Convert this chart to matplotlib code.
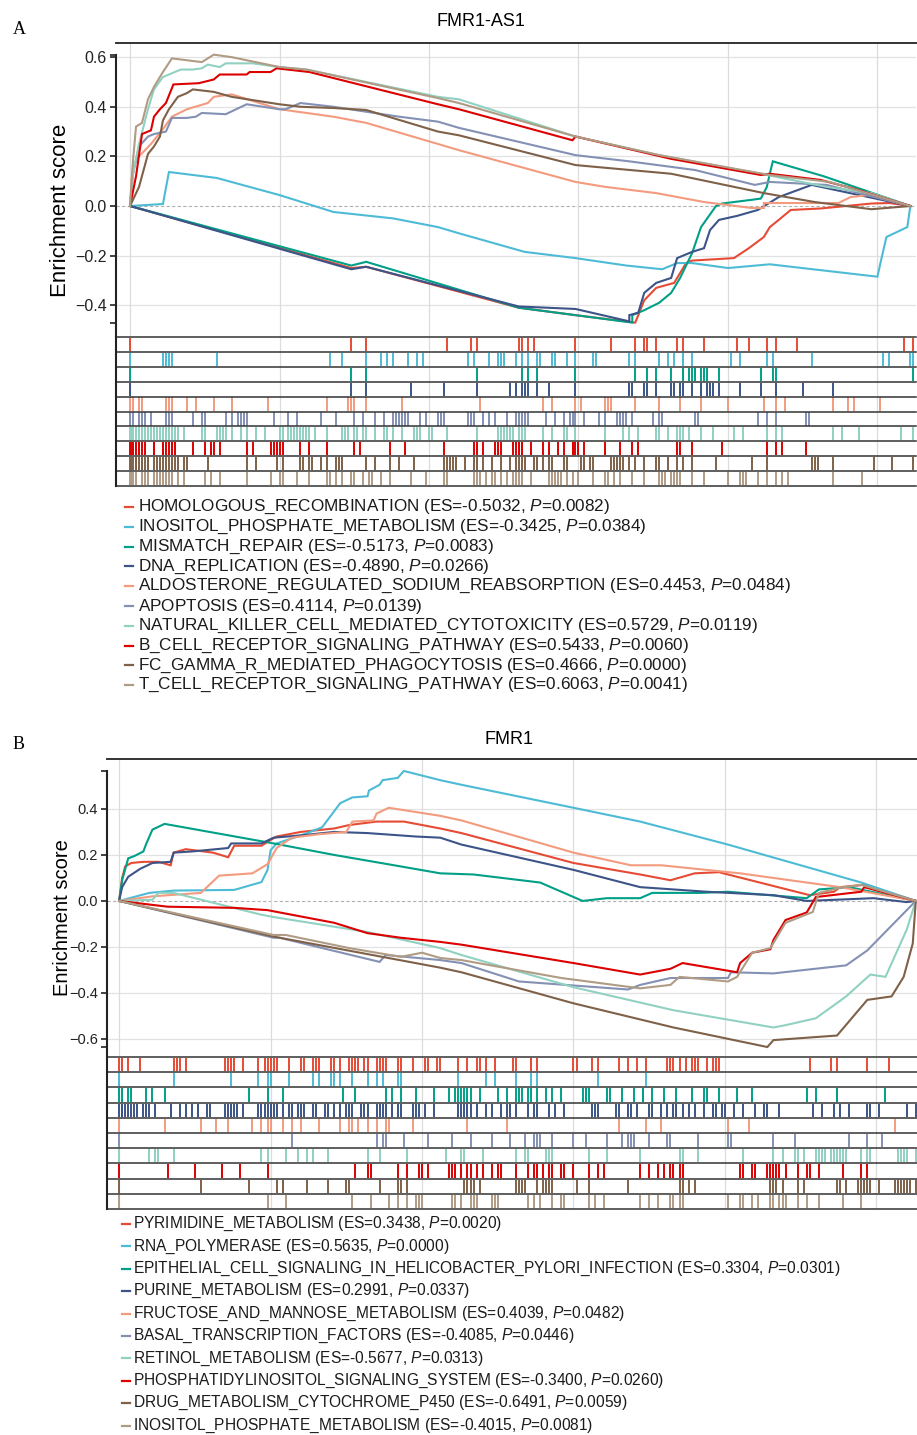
import numpy as np
import matplotlib.pyplot as plt
from matplotlib.lines import Line2D

plt.rcParams['font.family'] = ['Liberation Sans', 'DejaVu Sans']
plt.rcParams['mathtext.fontset'] = 'custom'
plt.rcParams['mathtext.rm'] = 'Liberation Sans'
plt.rcParams['mathtext.it'] = 'Liberation Sans:italic'

W, H = 917, 1435

# NPG palette, one colour per gene set (same order in both panels)
colors = ['#E64B35', '#4DBBD5', '#00A087', '#3C5488', '#F39B7F',
          '#8491B4', '#91D1C2', '#DC0000', '#7E6148', '#B09C85']

# ---------------- Panel A : FMR1-AS1 ----------------
a_names = ['HOMOLOGOUS_RECOMBINATION', 'INOSITOL_PHOSPHATE_METABOLISM',
           'MISMATCH_REPAIR', 'DNA_REPLICATION',
           'ALDOSTERONE_REGULATED_SODIUM_REABSORPTION', 'APOPTOSIS',
           'NATURAL_KILLER_CELL_MEDIATED_CYTOTOXICITY',
           'B_CELL_RECEPTOR_SIGNALING_PATHWAY',
           'FC_GAMMA_R_MEDIATED_PHAGOCYTOSIS',
           'T_CELL_RECEPTOR_SIGNALING_PATHWAY']
a_es = [-0.5032, -0.3425, -0.5173, -0.4890, 0.4453, 0.4114, 0.5729, 0.5433, 0.4666, 0.6063]
a_p = [0.0082, 0.0384, 0.0083, 0.0266, 0.0484, 0.0139, 0.0119, 0.0060, 0.0000, 0.0041]

# running enrichment score, (gene rank in thousands, ES)
a_curves = [
    [(0, 0), (7.4, -0.25), (7.9, -0.245), (13.0, -0.41), (14.9, -0.44), (16.9, -0.47),
     (17.2, -0.38), (17.6, -0.33), (18.2, -0.31), (18.6, -0.23), (18.8, -0.22), (20.2, -0.21),
     (20.7, -0.17), (21.2, -0.125), (21.4, -0.085), (21.7, -0.056), (22.1, -0.016),
     (23.1, -0.01), (24.8, 0.01), (25.4, 0.012), (26.1, 0)],
    [(0, 0), (1.1, 0.008), (1.3, 0.137), (2.9, 0.113), (5.0, 0.044), (6.8, -0.024),
     (8.8, -0.05), (10.3, -0.085), (11.0, -0.11), (13.2, -0.185), (14.9, -0.21),
     (16.6, -0.24), (17.8, -0.255), (18.3, -0.23), (18.8, -0.23), (20.0, -0.25),
     (21.4, -0.235), (25.0, -0.285), (25.1, -0.23), (25.3, -0.125), (26.0, -0.085), (26.1, 0)],
    [(0, 0), (7.4, -0.24), (7.9, -0.225), (13.0, -0.41), (16.8, -0.47), (16.8, -0.44),
     (17.2, -0.42), (17.7, -0.39), (18.1, -0.35), (18.4, -0.29), (18.8, -0.19), (19.1, -0.085),
     (19.6, 0), (19.8, 0.01), (20.8, 0.025), (21.1, 0.03), (21.3, 0.077), (21.4, 0.13),
     (21.5, 0.18), (23.2, 0.12), (26.1, 0)],
    [(0, 0), (7.4, -0.255), (7.9, -0.245), (13.0, -0.405), (14.9, -0.415), (16.7, -0.465),
     (16.7, -0.44), (17.0, -0.43), (17.2, -0.35), (17.6, -0.31), (18.1, -0.29), (18.3, -0.21),
     (18.8, -0.185), (19.2, -0.17), (19.4, -0.097), (19.7, -0.056), (20.3, -0.04),
     (21.0, -0.016), (21.7, 0.036), (22.8, 0.085), (26.1, 0)],
    [(0, 0), (0.05, 0.105), (0.1, 0.16), (0.3, 0.2), (0.7, 0.25), (1.1, 0.31), (1.4, 0.36),
     (1.9, 0.39), (2.6, 0.415), (2.8, 0.44), (3.4, 0.45), (5.0, 0.39), (6.8, 0.36),
     (7.9, 0.335), (10.3, 0.25), (11.0, 0.225), (14.9, 0.097), (15.9, 0.077), (17.6, 0.052),
     (19.2, 0.016), (20.8, -0.008), (21.2, -0.008), (21.2, 0.012), (23.7, 0.012),
     (24.1, 0.036), (24.7, 0.044), (26.1, 0)],
    [(0, 0), (0.1, 0.13), (0.3, 0.24), (0.6, 0.28), (0.8, 0.29), (1.2, 0.3), (1.4, 0.355),
     (1.9, 0.355), (2.2, 0.36), (2.4, 0.375), (3.2, 0.37), (3.9, 0.41), (5.0, 0.39),
     (5.2, 0.39), (5.7, 0.415), (6.8, 0.4), (9.0, 0.36), (10.3, 0.34), (11.0, 0.315),
     (14.9, 0.205), (16.7, 0.18), (18.9, 0.145), (20.9, 0.085), (21.4, 0.097), (23.3, 0.085),
     (26.1, 0)],
    [(0, 0), (0.1, 0.13), (0.3, 0.25), (0.6, 0.39), (0.8, 0.47), (1.1, 0.52), (1.7, 0.55),
     (2.1, 0.55), (2.4, 0.555), (2.6, 0.57), (3.0, 0.56), (3.2, 0.575), (4.1, 0.575),
     (5.0, 0.56), (5.9, 0.55), (10.3, 0.44), (11.0, 0.43), (14.9, 0.28), (17.7, 0.205),
     (21.3, 0.125), (23.3, 0.077), (24.8, 0.052), (26.1, 0)],
    [(0, 0), (0.2, 0.12), (0.4, 0.29), (0.7, 0.305), (0.8, 0.36), (1.0, 0.39), (1.2, 0.415),
     (1.4, 0.475), (1.45, 0.49), (2.3, 0.495), (2.8, 0.51), (3.0, 0.53), (3.9, 0.53),
     (4.0, 0.54), (4.7, 0.54), (4.9, 0.555), (6.0, 0.54), (10.3, 0.41), (11.0, 0.39),
     (14.8, 0.265), (14.9, 0.28), (18.1, 0.19), (21.1, 0.125), (21.4, 0.13), (23.1, 0.105),
     (24.2, 0.07), (26.1, 0)],
    [(0, 0), (0.3, 0.077), (0.6, 0.21), (0.8, 0.24), (1.0, 0.28), (1.1, 0.345), (1.3, 0.39),
     (1.6, 0.44), (1.9, 0.455), (2.1, 0.47), (2.8, 0.46), (3.4, 0.44), (5.0, 0.41),
     (5.7, 0.4), (6.8, 0.395), (7.9, 0.387), (10.3, 0.3), (11.0, 0.285), (14.9, 0.165),
     (18.1, 0.13), (21.2, 0.052), (22.9, 0.016), (24.8, -0.013), (26.1, 0)],
    [(0, 0), (0.1, 0.185), (0.2, 0.32), (0.4, 0.335), (0.6, 0.43), (0.8, 0.48), (1.1, 0.54),
     (1.4, 0.595), (2.4, 0.58), (2.8, 0.61), (3.4, 0.6), (5.0, 0.56), (5.9, 0.55),
     (10.3, 0.435), (11.0, 0.415), (14.9, 0.28), (17.7, 0.205), (21.4, 0.125), (23.4, 0.097),
     (26.1, 0)],
]

# hit positions of each gene set (gene rank in thousands)
a_hits = [
    [0, 7.4, 7.9, 10.6, 11.4, 11.6, 13.0, 13.1, 13.3, 13.5, 14.9, 16.1, 16.9, 17.2, 17.2, 17.3,
     17.6, 18.3, 18.5, 19.2, 20.3, 20.7, 21.3, 21.6, 22.3, 25.9, 26.2],
    [0, 1.1, 1.2, 1.3, 1.4, 2.9, 6.7, 7.1, 7.9, 8.4, 8.6, 8.8, 9.3, 9.6, 9.8, 11.3, 11.3, 11.5,
     12.0, 12.3, 12.4, 12.5, 12.9, 13.1, 13.3, 13.6, 13.7, 14.1, 14.2, 14.6, 14.9, 15.5, 15.6,
     16.7, 16.9, 17.7, 18.0, 18.2, 18.5, 18.5, 18.8, 20.1, 20.4, 21.3, 21.5, 22.8, 25.2, 25.4,
     26.1, 26.2],
    [0, 7.4, 7.9, 11.6, 13.1, 13.3, 13.6, 14.9, 16.9, 17.3, 17.6, 18.1, 18.5, 18.5, 18.7, 18.8,
     18.9, 18.9, 19.1, 19.2, 19.3, 19.7, 21.1, 21.5, 21.6, 26.2],
    [0, 7.4, 7.9, 9.4, 10.5, 11.6, 12.7, 12.9, 13.1, 13.2, 13.3, 13.6, 14.0, 14.9, 16.7, 16.8,
     17.2, 17.3, 17.6, 18.1, 18.2, 18.4, 18.5, 18.8, 19.1, 19.3, 19.4, 19.5, 19.7, 20.4, 21.1,
     21.6, 22.5, 23.5],
    [0, 0.1, 0.3, 0.4, 1.2, 1.3, 1.4, 1.9, 2.2, 2.8, 3.4, 4.6, 6.6, 7.3, 7.4, 7.5, 7.9, 9.1,
     11.7, 13.8, 14.1, 14.9, 14.9, 15.1, 15.9, 16.0, 16.1, 16.9, 17.7, 18.4, 19.1, 20.0, 21.2,
     21.6, 21.9, 23.5, 24.0, 24.2, 25.1],
    [0, 0.1, 0.3, 0.4, 0.5, 0.7, 1.2, 1.3, 1.4, 2.1, 2.4, 2.5, 3.2, 3.4, 3.6, 3.7, 3.8, 3.9,
     4.8, 5.3, 5.6, 6.4, 6.9, 7.5, 7.8, 8.2, 8.5, 8.8, 8.9, 9.0, 9.1, 9.2, 9.3, 9.7, 9.9,
     10.3, 10.4, 10.5, 11.3, 11.4, 11.5, 11.8, 12.0, 12.2, 12.6, 12.6, 12.9, 13.0, 13.1, 13.2,
     13.3, 13.9, 14.2, 14.5, 14.5, 14.7, 14.8, 14.9, 15.2, 15.7, 15.9, 16.3, 16.4, 16.5, 16.6,
     16.8, 17.5, 17.7, 17.8, 18.9, 19.0, 21.0, 21.3, 21.6, 22.6, 22.7],
    [0, 0.03, 0.1, 0.1, 0.1, 0.2, 0.2, 0.3, 0.3, 0.4, 0.5, 0.5, 0.6, 0.7, 0.7, 0.8, 0.9, 0.9,
     1.0, 1.1, 1.1, 1.2, 1.2, 1.3, 1.4, 1.4, 1.5, 1.6, 1.8, 2.4, 2.5, 2.9, 3.0, 3.1, 3.2, 3.4,
     3.7, 3.9, 4.2, 4.5, 5.0, 5.1, 5.3, 5.4, 5.5, 5.6, 5.7, 5.8, 5.9, 6.0, 6.2, 6.6, 7.1, 7.2,
     7.3, 7.5, 7.6, 7.8, 7.9, 8.2, 8.5, 8.6, 8.6, 8.8, 9.1, 9.5, 9.6, 9.7, 10.0, 10.1, 10.6,
     11.6, 12.3, 12.4, 12.5, 12.6, 12.7, 12.8, 13.0, 13.1, 13.2, 13.8, 14.1, 14.5, 14.6, 14.6,
     14.9, 14.9, 15.9, 16.5, 16.7, 17.0, 17.6, 17.7, 18.0, 18.3, 18.4, 18.5, 18.7, 19.1, 19.5,
     20.2, 20.5, 21.3, 21.6, 21.8, 23.5, 23.8, 24.4, 25.8, 26.2],
    [0, 0.03, 0.1, 0.1, 0.2, 0.3, 0.3, 0.4, 0.5, 0.8, 0.8, 1.1, 1.1, 1.2, 1.3, 1.4, 1.4, 1.5,
     2.1, 2.5, 2.7, 2.8, 3.0, 3.9, 4.1, 4.7, 4.8, 4.9, 5.0, 5.1, 5.7, 6.0, 6.6, 7.5, 7.7, 8.7,
     9.2, 10.5, 11.5, 11.6, 11.8, 12.2, 12.3, 12.4, 12.8, 12.9, 13.0, 13.0, 13.1, 13.1, 13.4,
     13.8, 14.0, 14.3, 14.5, 14.8, 14.8, 14.9, 15.0, 15.2, 15.9, 16.4, 16.8, 17.0, 18.3, 18.4,
     18.8, 19.8, 21.3, 21.6, 21.8, 22.6],
    [0, 0.03, 0.1, 0.2, 0.2, 0.3, 0.4, 0.4, 0.5, 0.6, 0.6, 0.8, 0.9, 1.0, 1.1, 1.2, 1.3, 1.4,
     1.5, 1.6, 1.8, 1.9, 2.6, 3.9, 4.2, 4.9, 5.1, 5.7, 5.8, 6.0, 6.1, 6.4, 6.6, 6.9, 7.0, 7.1,
     7.1, 7.9, 8.2, 8.7, 9.0, 9.5, 10.5, 10.6, 10.7, 10.8, 10.9, 11.2, 11.5, 11.6, 11.8, 12.1,
     12.4, 12.7, 12.9, 13.0, 13.1, 13.2, 13.5, 13.6, 13.8, 14.0, 14.1, 14.5, 14.6, 15.1, 15.2,
     15.2, 15.4, 15.5, 16.1, 16.2, 16.3, 16.4, 16.5, 16.7, 16.9, 17.2, 17.6, 17.7, 18.0, 18.3,
     18.5, 18.8, 19.6, 20.8, 21.3, 22.8, 22.9, 23.0, 23.5, 24.9, 25.5, 26.2],
    [0, 0.03, 0.1, 0.2, 0.2, 0.4, 0.5, 0.6, 0.8, 0.9, 1.0, 1.1, 1.2, 1.3, 1.4, 1.6, 1.8, 2.5,
     2.7, 3.0, 3.9, 4.7, 5.0, 5.1, 5.6, 6.0, 6.6, 6.7, 6.9, 7.1, 7.4, 7.5, 7.8, 8.0, 8.1, 8.4,
     8.7, 9.4, 9.9, 10.5, 10.6, 10.6, 11.5, 11.6, 11.7, 11.9, 12.1, 12.2, 12.4, 12.6, 12.8,
     12.9, 13.0, 13.1, 13.1, 13.4, 14.0, 14.1, 14.2, 14.3, 14.4, 14.6, 14.8, 15.0, 15.5, 15.9,
     16.0, 16.2, 16.4, 16.8, 17.2, 17.7, 17.8, 17.8, 17.9, 18.1, 18.2, 18.3, 18.4, 18.8, 19.2,
     20.0, 20.4, 20.5, 20.6, 21.0, 21.3, 21.6, 21.8, 22.0, 23.5, 24.5],
]

# ---------------- Panel B : FMR1 ----------------
b_names = ['PYRIMIDINE_METABOLISM', 'RNA_POLYMERASE',
           'EPITHELIAL_CELL_SIGNALING_IN_HELICOBACTER_PYLORI_INFECTION',
           'PURINE_METABOLISM', 'FRUCTOSE_AND_MANNOSE_METABOLISM',
           'BASAL_TRANSCRIPTION_FACTORS', 'RETINOL_METABOLISM',
           'PHOSPHATIDYLINOSITOL_SIGNALING_SYSTEM',
           'DRUG_METABOLISM_CYTOCHROME_P450', 'INOSITOL_PHOSPHATE_METABOLISM']
b_es = [0.3438, 0.5635, 0.3304, 0.2991, 0.4039, -0.4085, -0.5677, -0.3400, -0.6491, -0.4015]
b_p = [0.0020, 0.0000, 0.0301, 0.0337, 0.0482, 0.0446, 0.0313, 0.0260, 0.0059, 0.0081]

b_curves = [
    [(0, 0), (0.1, 0.1), (0.2, 0.15), (0.4, 0.165), (0.8, 0.17), (1.3, 0.17), (1.7, 0.155),
     (1.8, 0.21), (2.2, 0.225), (3.1, 0.21), (3.6, 0.19), (3.8, 0.24), (4.7, 0.24),
     (5.0, 0.265), (5.2, 0.28), (6.0, 0.3), (7.1, 0.315), (7.6, 0.33), (8.5, 0.345),
     (9.4, 0.345), (10.6, 0.315), (11.3, 0.295), (15.0, 0.165), (17.2, 0.115), (18.2, 0.09),
     (19.0, 0.12), (19.8, 0.125), (22.8, 0.025), (23.6, 0.04), (23.8, 0.06), (24.6, 0.07),
     (26.3, 0)],
    [(0, 0), (1.0, 0.035), (1.8, 0.045), (3.8, 0.048), (4.7, 0.082), (4.9, 0.135), (5.0, 0.22),
     (5.2, 0.25), (6.0, 0.285), (6.7, 0.32), (7.3, 0.425), (7.7, 0.45), (8.2, 0.455),
     (8.25, 0.48), (8.6, 0.505), (8.7, 0.525), (9.2, 0.535), (9.4, 0.565), (10.6, 0.525),
     (11.3, 0.505), (15.0, 0.405), (17.2, 0.345), (20.1, 0.245), (24.5, 0.08), (26.3, 0)],
    [(0, 0), (0.1, 0.09), (0.3, 0.185), (0.5, 0.195), (0.8, 0.215), (0.9, 0.25), (1.1, 0.31),
     (1.5, 0.335), (5.1, 0.25), (7.1, 0.2), (9.3, 0.15), (10.6, 0.12), (11.7, 0.115),
     (13.9, 0.08), (15.3, 0.0), (16.1, 0.012), (17.2, 0.012), (17.6, 0.035), (19.2, 0.035),
     (20.1, 0.04), (22.7, 0.012), (23.1, 0.05), (24.1, 0.06), (26.3, 0)],
    [(0, 0), (0.1, 0.06), (0.3, 0.105), (0.7, 0.14), (1.1, 0.165), (1.7, 0.17), (1.8, 0.21),
     (2.4, 0.215), (3.6, 0.23), (3.7, 0.25), (4.7, 0.25), (5.1, 0.275), (6.0, 0.285),
     (7.1, 0.3), (8.2, 0.295), (9.8, 0.28), (10.6, 0.275), (11.3, 0.245), (15.0, 0.135),
     (17.2, 0.06), (19.4, 0.04), (21.6, 0.025), (22.7, 0.0), (24.9, 0.012), (26.0, -0.005),
     (26.3, 0)],
    [(0, 0), (1.1, 0.02), (2.7, 0.035), (3.3, 0.11), (4.4, 0.12), (4.9, 0.16), (5.2, 0.23),
     (5.7, 0.275), (6.6, 0.29), (7.5, 0.3), (7.7, 0.345), (8.4, 0.35), (8.5, 0.38),
     (8.9, 0.405), (10.6, 0.37), (11.3, 0.35), (15.0, 0.21), (16.9, 0.155), (17.9, 0.155),
     (20.5, 0.12), (23.8, 0.06), (26.3, 0)],
    [(0, 0), (5.1, -0.16), (5.3, -0.16), (8.6, -0.265), (8.8, -0.235), (10.6, -0.257),
     (11.3, -0.27), (13.2, -0.35), (16.8, -0.385), (17.2, -0.365), (18.2, -0.335),
     (20.1, -0.335), (20.2, -0.31), (21.6, -0.315), (24.0, -0.28), (24.7, -0.215), (26.3, 0)],
    [(0, 0), (1.1, 0.005), (1.3, 0.035), (1.8, 0.035), (4.7, -0.06), (5.1, -0.07),
     (8.2, -0.135), (10.6, -0.205), (11.3, -0.235), (15.0, -0.375), (18.3, -0.475),
     (21.6, -0.55), (22.0, -0.54), (23.0, -0.51), (24.0, -0.415), (24.8, -0.32), (25.3, -0.33),
     (26.0, -0.125), (26.3, 0)],
    [(0, 0), (1.6, -0.025), (3.8, -0.03), (4.9, -0.04), (7.1, -0.095), (8.2, -0.14),
     (9.3, -0.16), (10.6, -0.178), (11.3, -0.19), (15.0, -0.27), (17.2, -0.32), (18.2, -0.295),
     (18.6, -0.27), (20.4, -0.31), (20.5, -0.27), (20.9, -0.225), (21.5, -0.21), (21.6, -0.17),
     (22.0, -0.083), (22.7, -0.05), (23.0, 0.017), (24.5, 0.04), (24.6, 0.06), (26.3, 0)],
    [(0, 0), (5.1, -0.155), (10.6, -0.29), (11.3, -0.31), (15.0, -0.445), (18.3, -0.55),
     (21.4, -0.635), (21.6, -0.605), (23.7, -0.585), (24.7, -0.43), (25.5, -0.415),
     (25.9, -0.33), (26.2, -0.185), (26.3, 0)],
    [(0, 0), (5.1, -0.148), (5.5, -0.148), (7.6, -0.205), (9.3, -0.243), (10.0, -0.225),
     (10.6, -0.248), (11.3, -0.257), (14.6, -0.335), (17.2, -0.38), (18.2, -0.365),
     (18.5, -0.33), (20.1, -0.35), (20.4, -0.33), (20.9, -0.225), (21.5, -0.205),
     (22.0, -0.095), (22.9, -0.048), (23.1, 0.035), (23.8, 0.057), (24.5, 0.07), (26.3, 0)],
]

b_hits = [
    [0, 0.1, 0.1, 0.3, 0.7, 1.8, 1.9, 2.0, 2.2, 3.5, 3.6, 3.7, 3.8, 3.8, 4.1, 4.6, 4.8, 4.8,
     4.9, 5.0, 5.1, 5.2, 5.6, 6.0, 6.1, 6.4, 6.5, 6.6, 6.6, 7.0, 7.1, 7.3, 7.6, 7.7, 7.8, 7.9,
     8.1, 8.2, 8.5, 8.6, 8.7, 8.8, 9.2, 9.3, 9.7, 10.1, 10.2, 10.5, 10.6, 11.2, 11.5, 11.8,
     11.9, 12.1, 12.4, 13.0, 13.1, 13.6, 13.6, 13.8, 15.0, 15.1, 15.6, 15.8, 16.5, 16.8, 17.1,
     17.4, 18.1, 18.2, 18.3, 18.5, 18.7, 18.9, 19.0, 19.1, 19.4, 19.6, 19.7, 19.8, 22.8, 23.5,
     23.7, 24.7, 25.4],
    [0, 1.8, 3.7, 4.6, 4.9, 5.0, 5.6, 6.4, 6.6, 7.0, 7.1, 7.3, 7.7, 8.2, 8.5, 8.7, 9.2, 9.3,
     11.2, 12.1, 12.4, 13.1, 13.6, 13.8, 15.8, 17.4],
    [0, 0.1, 0.1, 0.3, 0.4, 0.9, 1.1, 1.5, 4.3, 4.9, 5.4, 7.4, 7.8, 8.8, 9.0, 9.3, 9.8, 10.4,
     10.9, 11.1, 11.2, 11.3, 11.4, 11.5, 11.6, 11.9, 12.5, 12.8, 13.1, 13.2, 13.3, 13.5, 13.6,
     13.8, 14.1, 14.3, 14.6, 15.3, 15.4, 15.4, 15.5, 16.1, 16.2, 16.6, 17.0, 17.3, 17.3, 17.6,
     18.0, 18.4, 18.9, 19.3, 19.4, 19.8, 20.4, 20.9, 22.7, 23.0, 23.7, 23.7, 25.3],
    [0, 0.1, 0.1, 0.2, 0.3, 0.4, 0.5, 0.6, 0.8, 0.9, 1.0, 1.2, 1.7, 1.7, 2.0, 2.2, 2.4, 2.6,
     2.6, 2.9, 3.0, 3.5, 3.6, 3.7, 3.7, 3.8, 3.9, 4.1, 4.6, 4.7, 4.8, 4.9, 5.0, 5.0, 5.1, 5.2,
     5.4, 5.6, 5.7, 5.9, 6.0, 6.1, 6.4, 6.5, 6.8, 6.9, 7.1, 7.3, 7.5, 7.6, 7.7, 8.0, 8.1, 8.2,
     8.5, 8.6, 8.7, 8.8, 9.0, 9.2, 9.3, 9.7, 9.8, 9.9, 10.1, 10.4, 11.2, 11.3, 11.4, 11.5,
     11.6, 11.8, 12.1, 12.3, 12.6, 12.8, 12.9, 13.1, 13.5, 13.7, 13.8, 14.2, 14.4, 14.7, 15.6,
     15.7, 15.8, 16.4, 16.5, 16.8, 16.9, 17.1, 17.5, 17.6, 17.9, 18.1, 18.3, 18.4, 18.6, 18.8,
     19.0, 19.3, 19.6, 19.6, 19.7, 19.9, 20.0, 20.3, 20.6, 21.0, 21.3, 21.4, 21.8, 22.9, 23.2,
     23.6, 23.8, 24.1, 24.7, 24.8, 25.1, 26.0, 26.3],
    [0, 1.5, 2.7, 3.2, 3.6, 4.4, 4.7, 4.9, 5.0, 5.4, 5.7, 6.0, 6.6, 7.3, 7.6, 7.7, 7.9, 8.2,
     8.5, 8.8, 8.9, 9.7, 11.5, 12.8, 16.5, 17.4, 17.9, 20.1, 20.8, 25.6],
    [0, 5.7, 8.5, 8.7, 8.8, 9.4, 10.2, 11.0, 11.6, 12.3, 12.9, 13.4, 13.7, 13.8, 13.9, 14.3,
     15.0, 15.4, 16.1, 16.6, 16.8, 16.9, 17.0, 17.5, 18.1, 18.2, 19.1, 20.1, 20.2, 21.6, 22.3,
     24.1, 24.7, 25.2],
    [0, 1.0, 1.2, 1.3, 1.8, 4.7, 4.9, 5.5, 5.9, 6.2, 6.4, 6.9, 8.2, 8.6, 9.5, 10.8, 11.3, 11.4,
     12.0, 13.1, 13.4, 13.5, 14.1, 14.2, 14.3, 15.5, 15.5, 16.1, 17.2, 18.5, 18.6, 19.1, 20.6,
     21.6, 21.9, 22.3, 22.4, 22.6, 23.0, 23.1, 23.2, 23.3, 23.5, 23.6, 23.7, 23.8, 23.9, 24.0,
     24.5, 24.7, 24.8, 25.7, 25.8, 25.9, 26.0, 26.3],
    [0, 1.6, 2.5, 3.4, 4.0, 4.9, 7.8, 8.2, 8.3, 9.2, 9.5, 9.9, 10.0, 10.0, 10.2, 10.9, 11.0,
     11.1, 11.3, 11.5, 11.6, 11.8, 12.0, 12.3, 12.5, 12.6, 13.1, 13.5, 13.7, 13.8, 14.0, 14.2,
     14.3, 14.6, 14.7, 15.0, 15.5, 15.8, 16.0, 17.2, 17.5, 17.8, 18.0, 18.2, 18.3, 18.5, 18.6,
     20.5, 20.6, 20.9, 21.0, 21.4, 21.5, 21.6, 21.7, 21.8, 22.0, 22.4, 22.7, 22.8, 23.1, 23.9,
     24.5, 24.7],
    [0, 2.7, 4.3, 5.2, 5.4, 5.4, 6.2, 6.9, 7.5, 7.6, 8.6, 9.2, 9.3, 9.5, 11.4, 11.5, 11.6,
     11.7, 11.9, 13.1, 13.2, 13.3, 13.4, 13.8, 14.0, 14.1, 14.2, 14.3, 15.1, 15.5, 16.8, 18.5,
     18.6, 18.8, 19.0, 21.5, 21.6, 21.7, 21.9, 22.4, 22.6, 23.7, 23.8, 24.0, 24.4, 24.5, 24.6,
     24.7, 24.8, 25.1, 25.6, 25.7, 25.8, 25.9, 26.0, 26.1, 26.3],
    [0, 4.9, 5.5, 7.7, 8.3, 8.9, 9.2, 9.5, 9.8, 9.9, 10.0, 11.0, 11.1, 11.3, 11.6, 11.7, 11.8,
     12.3, 12.4, 12.5, 13.5, 13.7, 13.9, 14.3, 14.6, 14.7, 15.5, 15.7, 16.0, 17.2, 17.5, 17.8,
     18.2, 18.3, 18.5, 18.6, 20.1, 20.5, 20.6, 20.9, 21.1, 21.5, 21.6, 21.8, 21.9, 22.0, 22.4,
     22.7, 23.1, 23.9, 24.5],
]

a_yticks = [-0.4, -0.2, 0.0, 0.2, 0.4, 0.6]
b_yticks = [-0.6, -0.4, -0.2, 0.0, 0.2, 0.4]
x_grid = [0, 5, 10, 15, 20, 25]


def px_rect(l, t, r, b):
    return [l / W, 1 - b / H, (r - l) / W, (b - t) / H]


def draw_panel(fig, curve_rect, hit_rect, curves, hits, xlim, ylim, yticks, tick_fs):
    ax = fig.add_axes(px_rect(*curve_rect))
    for pts, c in zip(curves, colors):
        xs, ys = zip(*pts)
        ax.plot(xs, ys, color=c, lw=1.5, solid_joinstyle='miter')
    ax.set_xlim(*xlim)
    ax.set_ylim(*ylim)
    for v in yticks:
        if v != 0:
            ax.axhline(v, color='#e2e2e2', lw=0.9, zorder=0)
    ax.axhline(0, color='#b0b0b0', lw=0.8, ls=(0, (3, 2)), zorder=0)
    for v in x_grid:
        ax.axvline(v, color='#dcdcdc', lw=0.9, zorder=0)
    all_y = np.concatenate([np.array(p)[:, 1] for p in curves])
    lo, hi = all_y.min(), all_y.max()
    ticks = list(yticks) + [lo, hi]
    labels = [f"{v:.1f}".replace('-', '\u2212') for v in yticks] + ['', '']
    ax.set_yticks(ticks)
    ax.set_yticklabels(labels)
    ax.set_xticks([])
    ax.tick_params(axis='y', direction='out', length=4.5, width=1.2,
                   labelsize=tick_fs, pad=2, colors='#222222', labelcolor='#222222')
    for s in ['right', 'bottom']:
        ax.spines[s].set_visible(False)
    ax.spines['top'].set_linewidth(1.4)
    ax.spines['top'].set_color('#333333')
    ax.spines['left'].set_linewidth(1.5)
    ax.spines['left'].set_color('#222222')
    ax.spines['left'].set_bounds(ylim[0], hi)
    ax.patch.set_alpha(0)

    hx = fig.add_axes(px_rect(*hit_rect))
    n = len(hits)
    hx.set_xlim(*xlim)
    hx.set_ylim(0, n)
    for v in x_grid:
        hx.axvline(v, color='#dcdcdc', lw=0.9, zorder=0)
    for i, (h, c) in enumerate(zip(hits, colors)):
        hx.vlines(h, n - 1 - i + 0.06, n - i - 0.06, colors=c, lw=1.4)
    for j in range(n + 1):
        hx.axhline(j, color='#333333', lw=1.1, clip_on=False)
    for s in ['right', 'top', 'bottom']:
        hx.spines[s].set_visible(False)
    hx.spines['left'].set_linewidth(1.5)
    hx.spines['left'].set_color('#222222')
    hx.set_xticks([])
    hx.set_yticks([])
    return ax, hx


def draw_legend(fig, names, es, pvals, x_dash, x_text, y0, dy, fs):
    for i, (nm, e, p, c) in enumerate(zip(names, es, pvals, colors)):
        yf = 1 - (y0 + i * dy) / H
        fig.add_artist(Line2D([x_dash / W, (x_dash + 8) / W], [yf, yf], color=c, lw=1.6,
                              transform=fig.transFigure))
        fig.text(x_text / W, yf, f"{nm} (ES={e:.4f}, $\\mathit{{P}}$={p:.4f})",
                 ha='left', va='center', fontsize=fs, color='#1a1a1a')


fig = plt.figure(figsize=(W / 100, H / 100), dpi=100)

# Panel A
draw_panel(fig, (116, 43, 916, 336), (116, 337, 916, 486), a_curves, a_hits,
           (-0.47, 26.29), (-0.524, 0.657), a_yticks, 11.5)
fig.text(481 / W, 1 - 21 / H, 'FMR1-AS1', ha='center', va='center', fontsize=13)
fig.text(13 / W, 1 - 30 / H, 'A', ha='left', va='center', fontsize=13, family='Liberation Serif')
fig.text(60 / W, 1 - 210 / H, 'Enrichment score', rotation=90, ha='center', va='center',
         fontsize=16)
draw_legend(fig, a_names, a_es, a_p, 125, 138, 507, 19.8, 12.3)

# Panel B
draw_panel(fig, (107, 759, 917, 1056), (107, 1057, 917, 1209), b_curves, b_hits,
           (-0.40, 26.34), (-0.674, 0.617), b_yticks, 10.5)
fig.text(509 / W, 1 - 739 / H, 'FMR1', ha='center', va='center', fontsize=13)
fig.text(13 / W, 1 - 745 / H, 'B', ha='left', va='center', fontsize=13, family='Liberation Serif')
fig.text(62 / W, 1 - 918 / H, 'Enrichment score', rotation=90, ha='center', va='center',
         fontsize=14.5)
draw_legend(fig, b_names, b_es, b_p, 122, 133, 1224, 22.4, 11.2)

fig.savefig('out.png', dpi=100)
